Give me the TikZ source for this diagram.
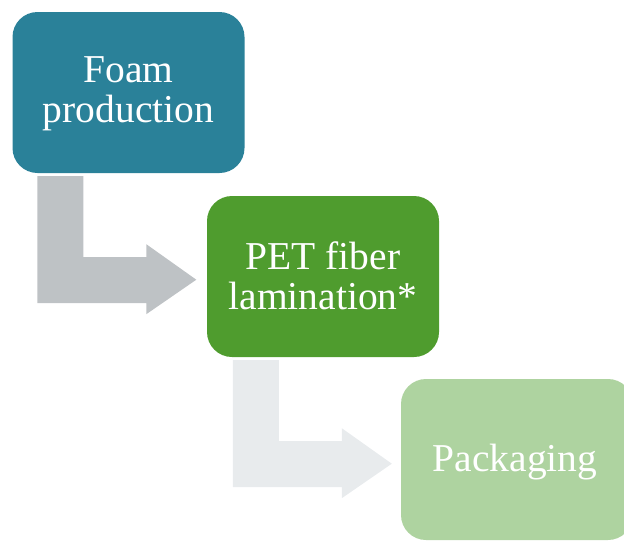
\documentclass[tikz,border=0pt]{standalone}
\usepackage{fontspec}
\setmainfont{Liberation Serif}
\usetikzlibrary{calc}

\definecolor{stageA}{HTML}{2A8199}
\definecolor{stageB}{HTML}{4F9C2E}
\definecolor{stageC}{HTML}{AED3A0}
\definecolor{flowA}{HTML}{BEC2C5}
\definecolor{flowB}{HTML}{E8EBED}

\tikzset{
  stagebox/.style={rectangle, rounded corners=25pt, draw=none,
    minimum width=232pt, minimum height=161pt, inner sep=0pt},
  stagetext/.style={inner sep=0pt, text=white, align=center,
    font=\fontsize{39.5}{40}\selectfont},
  % bent arrow: down, then right, with a wide head
  pics/bentarrow/.style={code={
    \fill (0,0) -- (46,0) -- (46,81) -- (109,81) -- (109,68)
      -- (159,103.5) -- (109,138) -- (109,127) -- (0,127) -- cycle;
  }}
}

\begin{document}
\begin{tikzpicture}[x=1pt, y=-1pt]
  \useasboundingbox (0,0) rectangle (624,541);
  \clip (0,0) rectangle (624,541);

  % process stages
  \node[stagebox, fill=stageA] (foam) at (128.5,92.5) {};
  \node[stagebox, fill=stageB] (pet) at (323,276.5) {};
  \node[stagebox, fill=stageC] (pack) at (517,459.5) {};

  \node[stagetext] (foamtxt) at ([yshift=-1.5pt]foam.center) {Foam\\production};
  \node[stagetext] (pettxt) at ([yshift=1pt]pet.center) {PET fiber\\lamination*};
  \node[stagetext] (packtxt) at ([xshift=-2pt,yshift=-3pt]pack.center) {Packaging};

  % flow arrows between stages
  \pic[fill=flowA] at ($(foam.south west)+(25,3)$) {bentarrow};
  \pic[fill=flowB] at ($(pet.south west)+(26,3)$) {bentarrow};
\end{tikzpicture}
\end{document}
